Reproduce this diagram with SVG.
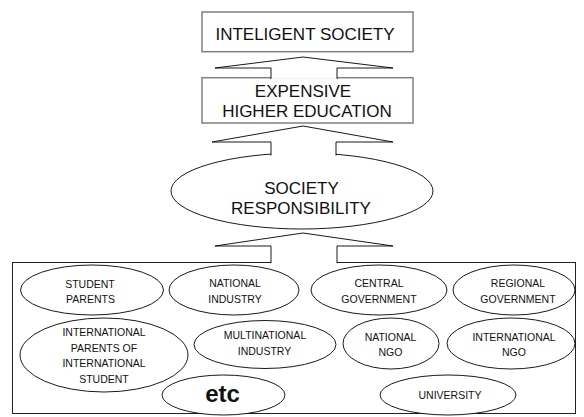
<svg xmlns="http://www.w3.org/2000/svg" width="584" height="417" viewBox="0 0 584 417">
  <style>
    .box { fill: #fff; stroke: #808080; stroke-width: 1.5; }
    .oval { fill: #fff; stroke: #000; stroke-width: 0.9; }
    .frame { fill: none; stroke: #222; stroke-width: 1; }
    .arrow { fill: #fff; stroke: #000; stroke-width: 0.9; }
    text { font-family: "Liberation Sans", Arial, sans-serif; fill: #111; text-anchor: middle; }
    .big { font-size: 17px; }
    .small { font-size: 10.5px; }
    .etc { font-size: 24px; font-weight: bold; }
  </style>

  <!-- outer frame holding the contributors -->
  <rect class="frame" x="12.5" y="262.5" width="563" height="151"/>

  <g id="intelligent-society">
    <rect class="box" x="202" y="12" width="211" height="39.7"/>
    <text class="big" x="305" y="39.5">INTELIGENT SOCIETY</text>
  </g>

  <g id="expensive-higher-education">
    <rect class="box" x="202" y="77.7" width="211" height="45.3"/>
    <text class="big" x="303" y="96.7">EXPENSIVE</text>
    <text class="big" x="307" y="116.7">HIGHER EDUCATION</text>
  </g>

  <g id="society-responsibility">
    <ellipse class="oval" cx="302" cy="191" rx="131" ry="38"/>
    <text class="big" x="301.5" y="194">SOCIETY</text>
    <text class="big" x="301" y="214">RESPONSIBILITY</text>
  </g>

  <g id="student-parents">
    <ellipse class="oval" cx="92" cy="290" rx="71.5" ry="25"/>
    <text class="small" x="90" y="287.5">STUDENT</text>
    <text class="small" x="90.5" y="302.5">PARENTS</text>
  </g>

  <g id="national-industry">
    <ellipse class="oval" cx="234" cy="290" rx="65" ry="25"/>
    <text class="small" x="235" y="287">NATIONAL</text>
    <text class="small" x="235" y="302.5">INDUSTRY</text>
  </g>

  <g id="central-government">
    <ellipse class="oval" cx="379" cy="290" rx="68" ry="25"/>
    <text class="small" x="379" y="287">CENTRAL</text>
    <text class="small" x="379" y="302.7">GOVERNMENT</text>
  </g>

  <g id="regional-government">
    <ellipse class="oval" cx="514" cy="290" rx="61" ry="25"/>
    <text class="small" x="518" y="287">REGIONAL</text>
    <text class="small" x="518" y="302.7">GOVERNMENT</text>
  </g>

  <g id="international-parents">
    <ellipse class="oval" cx="104" cy="355" rx="84" ry="37"/>
    <text class="small" x="104" y="336">INTERNATIONAL</text>
    <text class="small" x="104" y="351.5">PARENTS OF</text>
    <text class="small" x="104" y="367">INTERNATIONAL</text>
    <text class="small" x="104" y="382.5">STUDENT</text>
  </g>

  <g id="multinational-industry">
    <ellipse class="oval" cx="265" cy="344.5" rx="71" ry="24"/>
    <text class="small" x="265" y="339">MULTINATIONAL</text>
    <text class="small" x="264.5" y="355">INDUSTRY</text>
  </g>

  <g id="national-ngo">
    <ellipse class="oval" cx="391" cy="343.5" rx="48" ry="25.5"/>
    <text class="small" x="390.5" y="340.7">NATIONAL</text>
    <text class="small" x="390.5" y="355.7">NGO</text>
  </g>

  <g id="international-ngo">
    <ellipse class="oval" cx="511" cy="343.5" rx="64" ry="25.5"/>
    <text class="small" x="514" y="340.7">INTERNATIONAL</text>
    <text class="small" x="514" y="355.7">NGO</text>
  </g>

  <g id="etc">
    <ellipse class="oval" cx="223.5" cy="395" rx="61.5" ry="20"/>
    <text class="etc" x="222.5" y="402">etc</text>
  </g>

  <g id="university">
    <ellipse class="oval" cx="448" cy="395" rx="68" ry="20"/>
    <text class="small" x="450" y="399">UNIVERSITY</text>
  </g>

  <!-- block arrows pointing upward; the white fill hides the outline they rest on -->
  <g id="connectors">
    <path class="arrow" d="M271,78.8 V68 H215 L303,57 L393,68 H337 V78.8"/>
    <path class="arrow" d="M271,155.5 V142 H212 L303,126 L393,142 H336 V155.5"/>
    <path class="arrow" d="M271,263.2 V246 H215 L303,233 L393,246 H337 V263.2"/>
  </g>
</svg>
